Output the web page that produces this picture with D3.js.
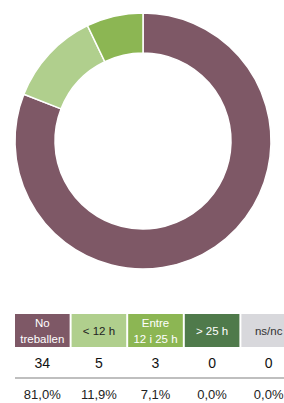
<!DOCTYPE html>
<html><head><meta charset="utf-8">
<script src="https://cdn.jsdelivr.net/npm/d3@7"></script>
<style>body{margin:0;background:#fff;}svg{display:block;font-family:"Liberation Sans",Arial,sans-serif;}</style>
</head><body>
<svg id="c" width="284" height="403"></svg>
<script>
const categories = ["No\ntreballen", "< 12 h", "Entre\n12 i 25 h", "> 25 h", "ns/nc"];
const counts = [34, 5, 3, 0, 0];
const percents = ["81,0%", "11,9%", "7,1%", "0,0%", "0,0%"];
const colors = ["#7e5866", "#b0cf8d", "#8cb653", "#4f7a4b", "#d8d8dc"];
const textColors = ["#fff", "#222", "#fff", "#fff", "#333"];

const svg = d3.select("#c");
const cx = 143, cy = 141, rOuter = 128, rInner = 88;
const pie = d3.pie().sort(null).value(d => d.v);
const arc = d3.arc().innerRadius(rInner).outerRadius(rOuter);
const data = categories.map((c, i) => ({c, v: counts[i], col: colors[i]}));
svg.append("g").attr("transform", `translate(${cx},${cy})`)
  .selectAll("path").data(pie(data).filter(d => d.data.v > 0)).join("path")
  .attr("d", arc).attr("fill", d => d.data.col)
  .attr("stroke", "#fff").attr("stroke-width", 1.5);

const x = d3.scaleBand().domain(d3.range(5)).range([15, 296]).paddingInner(0.035);
const g = svg.append("g");
const cells = g.selectAll("g.cell").data(data).join("g").attr("class", "cell");
cells.append("rect").attr("x", (d, i) => x(i)).attr("y", 314).attr("width", x.bandwidth()).attr("height", 33)
  .attr("fill", d => d.col);
cells.each(function(d, i) {
  const lines = d.c.split("\n");
  const t = d3.select(this).append("text").attr("text-anchor", "middle").attr("font-size", 11.5)
    .attr("fill", textColors[i]);
  const cxx = x(i) + x.bandwidth() / 2;
  if (lines.length === 1) {
    t.append("tspan").attr("x", cxx).attr("y", 335).text(lines[0]);
  } else {
    t.append("tspan").attr("x", cxx).attr("y", 327).text(lines[0]);
    t.append("tspan").attr("x", cxx).attr("y", 343).text(lines[1]);
  }
});
g.selectAll("text.num").data(counts).join("text").attr("class", "num")
  .attr("x", (d, i) => x(i) + x.bandwidth() / 2).attr("y", 368).attr("text-anchor", "middle")
  .attr("font-size", 14).attr("fill", "#111").text(d => d);
g.append("line").attr("x1", 15).attr("x2", 284).attr("y1", 378).attr("y2", 378)
  .attr("stroke", "#bfbfbf").attr("stroke-width", 2);
g.selectAll("text.pct").data(percents).join("text").attr("class", "pct")
  .attr("x", (d, i) => x(i) + x.bandwidth() / 2).attr("y", 399).attr("text-anchor", "middle")
  .attr("font-size", 13).attr("fill", "#222").text(d => d);
</script>
</body></html>
